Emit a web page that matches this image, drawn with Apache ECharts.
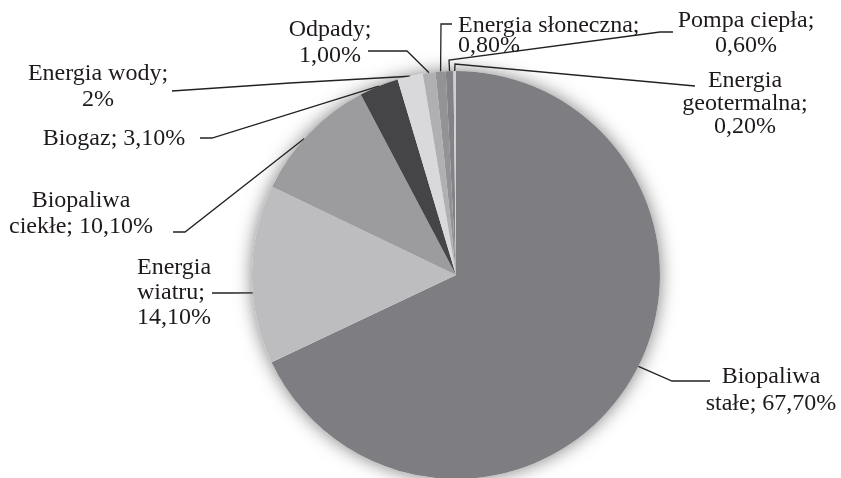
<!DOCTYPE html>
<html>
<head>
<meta charset="utf-8">
<script src="https://cdn.jsdelivr.net/npm/echarts@6/dist/echarts.min.js"></script>
<style>
html,body{margin:0;padding:0;background:#fff;}
#chart{width:841px;height:478px;}
</style>
</head>
<body>
<div id="chart"></div>
<script>
// Data
const categories = ['Biopaliwa stałe', 'Energia wiatru', 'Biopaliwa ciekłe', 'Biogaz', 'Energia wody', 'Odpady', 'Energia słoneczna', 'Pompa ciepła', 'Energia geotermalna'];
const values = [67.7, 14.1, 10.1, 3.1, 2.0, 1.0, 0.8, 0.6, 0.2];
const labelTexts = [
  'Biopaliwa\nstałe; 67,70%',
  'Energia\nwiatru;\n14,10%',
  'Biopaliwa\nciekłe; 10,10%',
  'Biogaz; 3,10%',
  'Energia wody;\n2%',
  'Odpady;\n1,00%',
  'Energia słoneczna;\n0,80%',
  'Pompa ciepła;\n0,60%',
  'Energia\ngeotermalna;\n0,20%'
];
const colors = ['#7e7e82', '#bdbdc0', '#9c9c9f', '#454548', '#d9d9db', '#b0b0b3', '#939396', '#838387', '#cfcfd1'];

// Label placement (annotation layout); anchorDeg = optional leader anchor angle on rim (clockwise from top)
const labelPlace = [
  {x: 771, y: 390, align: 'center', lh: 27, anchorDeg: 116.6, pts: [[672, 381], [710, 381]]},
  {x: 137, y: 293, align: 'left',   lh: 25, anchorDeg: 265,   pts: [[232, 293], [212, 293]]},
  {x: 81,  y: 214, align: 'center', lh: 26, anchorDeg: 312,   pts: [[185, 232], [173, 232]]},
  {x: 114, y: 139, align: 'center', lh: 26, pts: [[212, 138], [200, 138]]},
  {x: 98,  y: 87,  align: 'center', lh: 26, pts: [[290, 83], [172, 91]]},
  {x: 330, y: 43,  align: 'center', lh: 26, pts: [[407, 51], [368, 51]]},
  {x: 458, y: 36,  align: 'left',   lh: 20, pts: [[441, 24], [452, 24]]},
  {x: 746, y: 33,  align: 'center', lh: 25, pts: [[449, 60], [660, 32], [673, 32]]},
  {x: 745, y: 104, align: 'center', lh: 23, pts: [[455, 64], [695, 86]]}
];

const CX = 456, CY = 275, R = 204;
const total = values.reduce((a, b) => a + b, 0);
function rimPoint(rad) {
  return [CX + R * Math.sin(rad), CY - R * Math.cos(rad)];
}
function edgePoint(i) {
  let cum = 0;
  for (let k = 0; k < i; k++) cum += values[k];
  return rimPoint((cum + values[i] / 2) / total * Math.PI * 2);
}

const chart = echarts.init(document.getElementById('chart'), null, {renderer: 'canvas'});
const font = '"Liberation Serif", "Times New Roman", serif';

chart.setOption({
  animation: false,
  backgroundColor: '#ffffff',
  series: [
    {
      type: 'pie',
      silent: true,
      center: [CX, CY],
      radius: R,
      z: 1,
      label: {show: false},
      labelLine: {show: false},
      data: [{value: 1, itemStyle: {color: '#ffffff', shadowBlur: 18, shadowColor: 'rgba(0,0,0,0.5)'}}]
    },
    {
      type: 'pie',
      z: 2,
      center: [CX, CY],
      radius: R,
      startAngle: 90,
      clockwise: true,
      avoidLabelOverlap: false,
      data: categories.map((c, i) => ({
        name: c,
        value: values[i],
        itemStyle: {color: colors[i]},
        label: {lineHeight: labelPlace[i].lh}
      })),
      itemStyle: {borderWidth: 0},
      label: {
        show: true,
        position: 'outside',
        formatter: p => labelTexts[p.dataIndex],
        fontFamily: font,
        fontSize: 24,
        color: '#1e1a1b'
      },
      labelLine: {
        show: true,
        smooth: false,
        length: 10,
        length2: 10,
        lineStyle: {color: '#222', width: 1.3}
      },
      labelLayout: function (params) {
        const i = params.dataIndex;
        const lp = labelPlace[i];
        let start;
        if (lp.anchorDeg != null) {
          start = rimPoint(lp.anchorDeg * Math.PI / 180);
        } else if (params.labelLinePoints && params.labelLinePoints[0]) {
          start = params.labelLinePoints[0];
        } else {
          start = edgePoint(i);
        }
        return {
          x: lp.x,
          y: lp.y,
          align: lp.align,
          verticalAlign: 'middle',
          labelLinePoints: [start].concat(lp.pts)
        };
      }
    }
  ]
});
</script>
</body>
</html>
